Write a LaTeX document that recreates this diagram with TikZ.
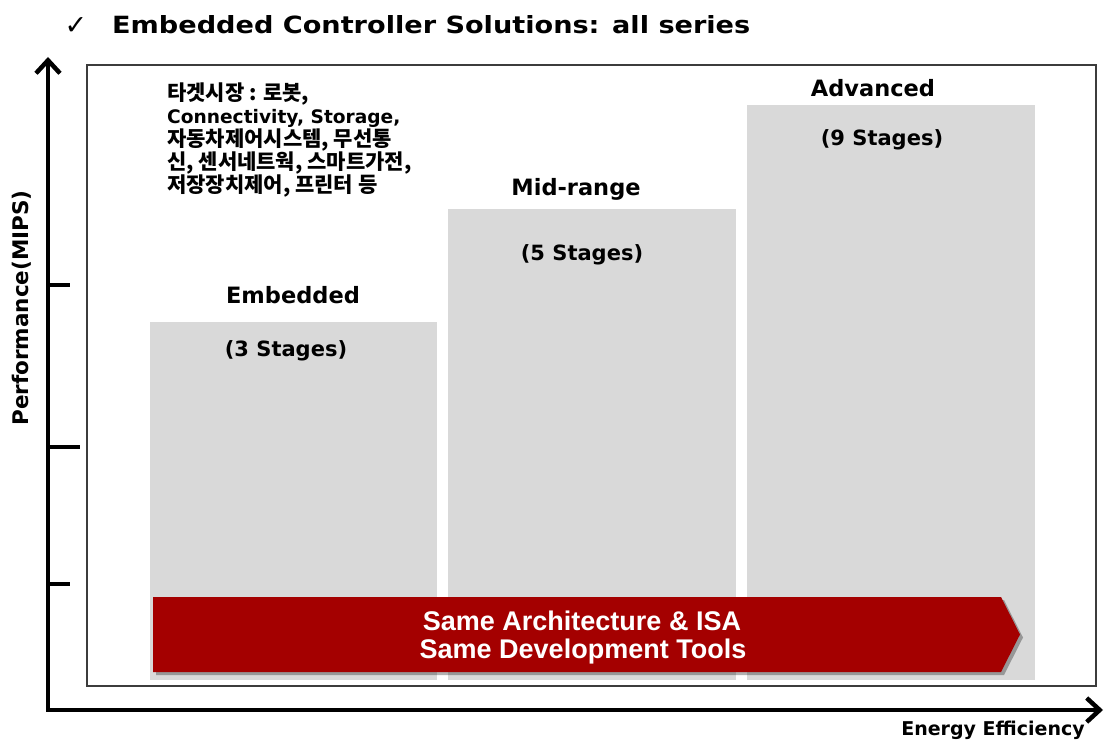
\documentclass[tikz,border=0pt]{standalone}
\usepackage{fontspec}
\usepackage{graphicx}
\setmainfont{DejaVu Sans}
\newfontfamily\krfont{Noto Sans CJK KR}
\newfontfamily\arialfont{Liberation Sans}
\usetikzlibrary{arrows.meta}

\definecolor{barGray}{RGB}{217,217,217}
\definecolor{bandRed}{RGB}{164,0,0}
\definecolor{frameGray}{RGB}{60,60,60}

\tikzset{
  axisline/.style={line width=4.5pt, black,
    {Straight Barb[length=13pt,width=24pt]}-{Straight Barb[length=13pt,width=24pt]}},
  tickmark/.style={line width=4pt, black},
  framebox/.style={draw=frameGray, line width=2pt, fill=white, inner sep=0pt},
  stagebar/.style={fill=barGray, draw=none, inner sep=0pt, anchor=north west},
  heading/.style={font=\bfseries\fontsize{22.5}{26}\selectfont, anchor=base, inner sep=0pt},
  stagetext/.style={font=\bfseries\fontsize{21}{24}\selectfont, anchor=base, inner sep=0pt},
  krline/.style={font=\krfont\bfseries\fontsize{21}{23}\selectfont, anchor=base west, inner sep=0pt},
  latline/.style={font=\bfseries\fontsize{18.6}{23}\selectfont, anchor=base west, inner sep=0pt},
  bandtext/.style={font=\arialfont\bfseries\fontsize{27}{28}\selectfont, text=white, anchor=base, inner sep=0pt},
  axislabel/.style={font=\bfseries\fontsize{21.5}{24}\selectfont, inner sep=0pt}
}

\begin{document}
\begin{tikzpicture}[x=1pt,y=-1pt]
\useasboundingbox (0,0) rectangle (1106,741);

% title
\node[anchor=base, inner sep=0pt, font=\fontsize{27}{27}\selectfont] (check) at (76,35) {✓};
\node[anchor=base west, inner sep=0pt] (title) at (112,34)
  {\resizebox{638pt}{18pt}{\bfseries Embedded Controller Solutions: all series}};

% outer frame
\node[framebox, minimum width=1009pt, minimum height=621pt, anchor=north west] (frame) at (86,64) {};

% performance bars
\node[stagebar, minimum width=287pt, minimum height=358pt] (embbar) at (150,322) {};
\node[stagebar, minimum width=288pt, minimum height=471pt] (midbar) at (448,209) {};
\node[stagebar, minimum width=288pt, minimum height=575pt] (advbar) at (747,105) {};

% bar captions
\node[heading] (embname) at (293,303) {Embedded};
\node[stagetext] (embstages) at (286,356) {(3 Stages)};
\node[heading] (midname) at (576,195) {Mid-range};
\node[stagetext] (midstages) at (582,260) {(5 Stages)};
\node[heading] (advname) at (873,97) {Advanced};
\node[stagetext] (advstages) at (882,146) {(9 Stages)};

% target markets
\node[krline] (mk1) at (167,101) {타겟시장 : 로봇,};
\node[latline] (mk2) at (167,124) {Connectivity, Storage,};
\node[krline] (mk3) at (167,147) {자동차제어시스템, 무선통};
\node[krline] (mk4) at (167,170) {신, 센서네트웍, 스마트가전,};
\node[krline] (mk5) at (167,193) {저장장치제어, 프린터 등};

% common-platform band
\fill[black, opacity=0.3] (156,600) -- (1004,600) -- (1023,637.5) -- (1004,675) -- (156,675) -- cycle;
\fill[bandRed] (153,597) -- (1001,597) -- (1020,634.5) -- (1001,672) -- (153,672) -- cycle;
\node[bandtext] (band1) at (582,630) {Same Architecture \& ISA};
\node[bandtext] (band2) at (583,658) {Same Development Tools};

% axes
\coordinate (origin) at (48,710);
\coordinate (ytip) at (48,57);
\coordinate (xtip) at (1103,710);
\draw[axisline] (ytip) -- (origin) -- (xtip);
\draw[tickmark] (48,285) -- (70,285);
\draw[tickmark] (48,447) -- (80,447);
\draw[tickmark] (48,584) -- (70,584);

\node[axislabel, rotate=90] (ylabel) at (22,308) {Performance(MIPS)};
\node[axislabel, anchor=base, font=\bfseries\fontsize{19}{22}\selectfont] (xlabel) at (993,735.5) {Energy Efficiency};
\end{tikzpicture}
\end{document}
